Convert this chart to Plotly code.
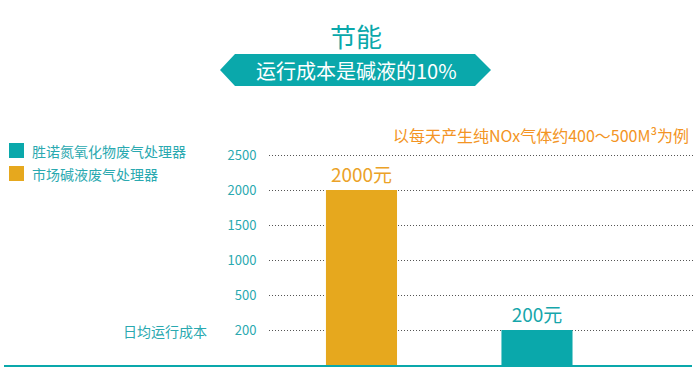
import numpy as np
import plotly.graph_objects as go

# ---- data ----
title_text = "节能"
banner_text = "运行成本是碱液的10%"
note_text = "以每天产生纯NOx气体约400～500M³为例"
axis_title = "日均运行成本"
series_names = ["胜诺氮氧化物废气处理器", "市场碱液废气处理器"]
series_colors = ["#0aa8ab", "#e6a81e"]
label_colors = ["#16a6ab", "#eba227"]
bar_categories = ["市场碱液废气处理器", "胜诺氮氧化物废气处理器"]
bar_values = [2000, 200]
bar_unit = "元"
tick_values = [200, 500, 1000, 1500, 2000, 2500]
tick_labels = ["200", "500", "1000", "1500", "2000", "2500"]

FONT = "Noto Sans CJK SC"
TEAL = "#0aa8ab"
TEXT_TEAL = "#2aa9b0"
ORANGE_TEXT = "#f39423"

# the chart's y scale places ticks evenly (0, 200, 500, 1000, ...)
scale_domain = [0] + tick_values
scale_range = list(range(len(scale_domain)))


def yscale(v):
    return float(np.interp(v, scale_domain, scale_range))


# plot area geometry (pixels)
W, H = 697, 367
L, R, T, B = 269, 4, 120, 2
PW, PH = W - L - R, H - T - B


def px(x):
    return (x - L) / PW


def py(y):
    return (H - B - y) / PH


color_of = {n: c for n, c in zip(series_names, series_colors)}
lcolor_of = {n: c for n, c in zip(series_names, label_colors)}

fig = go.Figure()
fig.add_trace(go.Bar(
    x=bar_categories,
    y=[yscale(v) for v in bar_values],
    width=0.405,
    marker=dict(color=[color_of[c] for c in bar_categories], line=dict(width=0)),
    text=[f"{v}{bar_unit}" for v in bar_values],
    textposition="outside",
    textfont=dict(family=FONT, size=19, color=[lcolor_of[c] for c in bar_categories]),
    cliponaxis=False,
    showlegend=False,
    hoverinfo="skip",
))

shapes = []
annotations = []

# baseline
shapes.append(dict(type="line", xref="paper", yref="paper",
                   x0=px(4), x1=px(692), y0=py(366), y1=py(366),
                   line=dict(color=TEAL, width=2)))

# banner
bx = [220, 235, 475, 491]
by_top, by_mid, by_bot = 54, 70, 86
path = (f"M {px(bx[0])},{py(by_mid)} L {px(bx[1])},{py(by_top)} L {px(bx[2])},{py(by_top)} "
        f"L {px(bx[3])},{py(by_mid)} L {px(bx[2])},{py(by_bot)} L {px(bx[1])},{py(by_bot)} Z")
shapes.append(dict(type="path", xref="paper", yref="paper", path=path,
                   fillcolor=TEAL, line=dict(width=0)))
annotations.append(dict(xref="paper", yref="paper", x=px(356), y=py(70),
                        text=banner_text, showarrow=False,
                        font=dict(family=FONT, size=20, color="white"),
                        xanchor="center", yanchor="middle"))
# title
annotations.append(dict(xref="paper", yref="paper", x=px(356), y=py(35),
                        text=title_text, showarrow=False,
                        font=dict(family=FONT, size=26, color=TEAL),
                        xanchor="center", yanchor="middle"))
# note
annotations.append(dict(xref="paper", yref="paper", x=px(691), y=py(135),
                        text=note_text, showarrow=False,
                        font=dict(family=FONT, size=16, color=ORANGE_TEXT),
                        xanchor="right", yanchor="middle", xshift=0))
# axis title
annotations.append(dict(xref="paper", yref="paper", x=px(121), y=py(331),
                        text=axis_title, showarrow=False,
                        font=dict(family=FONT, size=14, color=TEXT_TEAL),
                        xanchor="left", yanchor="middle"))
# legend
for i, (name, col) in enumerate(zip(series_names, series_colors)):
    top = 143 + i * 23
    shapes.append(dict(type="rect", xref="paper", yref="paper",
                       x0=px(9), x1=px(24), y0=py(top), y1=py(top + 15),
                       fillcolor=col, line=dict(width=0)))
    annotations.append(dict(xref="paper", yref="paper", x=px(30), y=py(top + 7.5),
                            text=name, showarrow=False,
                            font=dict(family=FONT, size=14, color=TEXT_TEAL),
                            xanchor="left", yanchor="middle"))

fig.update_layout(
    width=W, height=H,
    margin=dict(l=L, r=R, t=T, b=B, pad=0),
    paper_bgcolor="white", plot_bgcolor="white",
    shapes=shapes, annotations=annotations,
    showlegend=False,
    xaxis=dict(type="category", range=[-0.527, 1.889], showticklabels=False,
               showgrid=False, zeroline=False, showline=False, fixedrange=True),
    yaxis=dict(range=[0, 7], tickvals=[yscale(v) for v in tick_values], ticktext=tick_labels,
               showgrid=True, gridcolor="#555555", gridwidth=1, griddash="1px,2px",
               zeroline=False, showline=False,
               ticks="outside", ticklen=9, tickcolor="rgba(0,0,0,0)",
               tickfont=dict(family=FONT, size=13, color=TEXT_TEAL), fixedrange=True),
)

fig.write_html("out.html", config={"displayModeBar": False, "staticPlot": True},
               post_script="document.body.style.margin='0';document.body.style.overflow='hidden';")
